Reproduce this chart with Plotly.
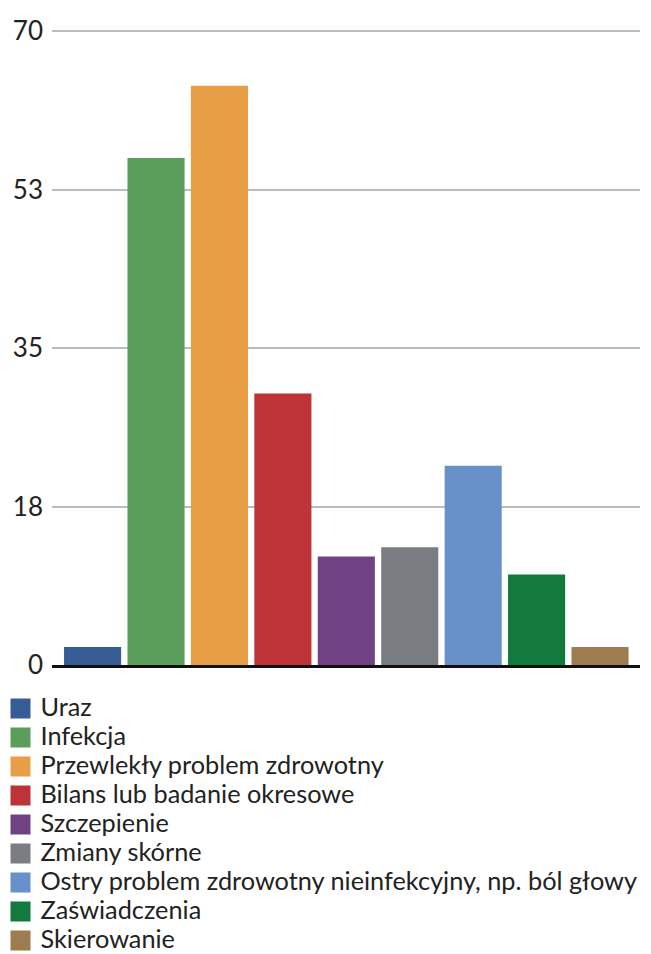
import plotly.graph_objects as go

categories = [
    "Uraz",
    "Infekcja",
    "Przewlekły problem zdrowotny",
    "Bilans lub badanie okresowe",
    "Szczepienie",
    "Zmiany skórne",
    "Ostry problem zdrowotny nieinfekcyjny, np. ból głowy",
    "Zaświadczenia",
    "Skierowanie",
]
values = [2, 56, 64, 30, 12, 13, 22, 10, 2]
colors = ["#375d95", "#5b9e5b", "#e89e45", "#bd3337", "#704283",
          "#7a7e82", "#6890c9", "#127a3d", "#9d7d50"]
tick_vals = [0, 17.5, 35, 52.5, 70]
tick_text = ["0", "18", "35", "53", "70"]

W, H = 651, 954
ML, MR, MT, MB = 52, 11, 30, 289

fig = go.Figure()
for cat, val, col in zip(categories, values, colors):
    fig.add_trace(go.Bar(x=[cat], y=[val], marker=dict(color=col, line=dict(width=0)),
                         showlegend=False, hoverinfo="x+y"))
for cat, col in zip(categories, colors):
    fig.add_trace(go.Scatter(
        x=[None], y=[None], mode="markers",
        marker=dict(symbol="square", size=16, color=col, line=dict(color=col, width=4)),
        name='<span style="font-size:25.3px">' + cat + '</span>', showlegend=True))

plot_w = W - ML - MR
plot_h = H - MT - MB
fig.update_layout(
    width=W, height=H,
    margin=dict(l=ML, r=MR, t=MT, b=MB, autoexpand=False),
    paper_bgcolor="white", plot_bgcolor="white",
    barmode="overlay", bargap=0.1,
    font=dict(family="Lato", color="#222222"),
    showlegend=True,
    legend=dict(
        x=(0.5 - ML) / plot_w, xanchor="left",
        y=(H - MB - 689) / plot_h, yanchor="top",
        font=dict(size=20, family="Lato", color="#222222"),
        itemsizing="trace", bgcolor="rgba(0,0,0,0)",
        tracegroupgap=0,
    ),
    xaxis=dict(
        type="category", categoryorder="array", categoryarray=categories,
        range=[-0.64, 8.63], showticklabels=False, showgrid=False,
        showline=True, linecolor="#111111", linewidth=2.5, ticks="",
        zeroline=False, fixedrange=True,
    ),
    yaxis=dict(
        range=[0, 70.15], tickvals=tick_vals, ticktext=tick_text,
        showgrid=True, gridcolor="#b9bcc0", gridwidth=1.5,
        zeroline=False, showline=False, ticks="",
        tickfont=dict(size=26, family="Lato", color="#222222"),
        ticklabelstandoff=8, fixedrange=True,
    ),
)
fig.write_html("out.html")
